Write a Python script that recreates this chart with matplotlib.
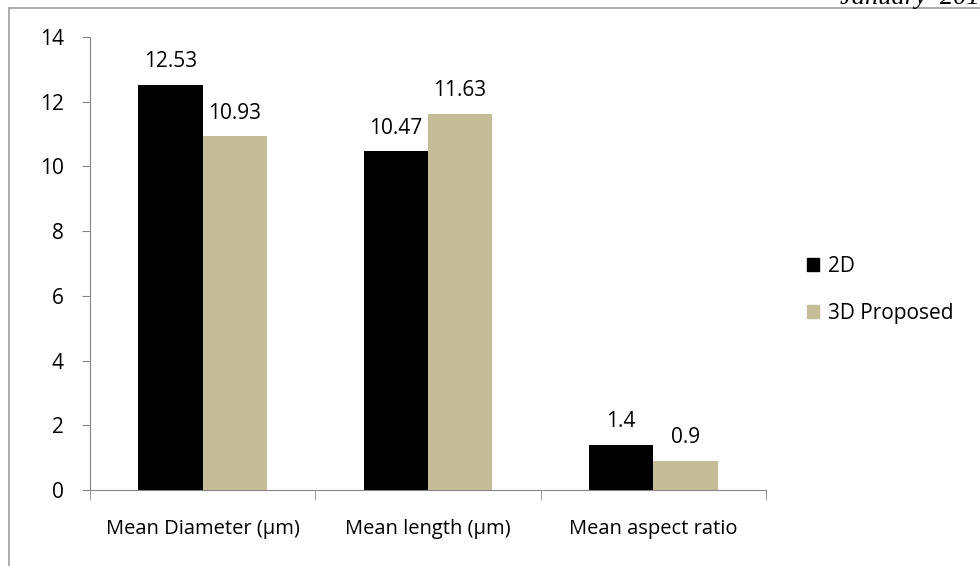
""" Mean fibre geometry, 2D vs proposed 3D method """

import numpy as np
import matplotlib.pyplot as plt
from matplotlib.lines import Line2D
from matplotlib.patches import Patch

categories = ['Mean Diameter (µm)', 'Mean length (µm)', 'Mean aspect ratio']
series_names = ['2D', '3D Proposed']
values_2d = [12.53, 10.47, 1.4]
values_3d = [10.93, 11.63, 0.9]
labels_2d = ['12.53', '10.47', '1.4']
labels_3d = ['10.93', '11.63', '0.9']
y_ticks = [0, 2, 4, 6, 8, 10, 12, 14]


def main():
    plt.rcParams['font.family'] = ['Open Sans', 'DejaVu Sans']
    fig = plt.figure(figsize=(9.8, 5.66), dpi=100)
    ax = fig.add_axes([90 / 980, 1 - 490 / 566, 676 / 980, 453 / 566])

    grey = '#868686'
    xs = np.arange(len(categories))
    w = 0.285
    bars1 = ax.bar(xs - w / 2, values_2d, w, color='black', label=series_names[0])
    bars2 = ax.bar(xs + w / 2, values_3d, w, color='#c4bd97', label=series_names[1])

    for bars, labels in [(bars1, labels_2d), (bars2, labels_3d)]:
        for b, lab in zip(bars, labels):
            ax.annotate(lab, (b.get_x() + b.get_width() / 2, b.get_height()),
                        xytext=(0, 9), textcoords='offset points',
                        ha='center', va='bottom', fontsize=15)

    ax.set_xlim(-0.5, len(categories) - 0.5)
    ax.set_ylim(0, 14)
    ax.set_yticks(y_ticks)
    ax.tick_params(axis='y', length=6, color=grey, labelsize=15, pad=13)
    ax.set_xticks(xs)
    ax.set_xticklabels(categories, fontsize=14.5)
    ax.tick_params(axis='x', length=0, pad=21)
    # category boundary ticks
    ax.set_xticks(np.arange(len(categories) + 1) - 0.5, minor=True)
    ax.tick_params(axis='x', which='minor', length=7, color=grey, direction='out')

    for side in ['top', 'right']:
        ax.spines[side].set_visible(False)
    ax.spines['left'].set_color(grey)
    ax.spines['bottom'].set_color(grey)

    handles = [Patch(color='black'), Patch(color='#c4bd97')]
    fig.legend(handles, series_names, loc='center left',
               bbox_to_anchor=(788 / 980, 1 - 290 / 566), frameon=False,
               fontsize=15, handlelength=0.6, handleheight=0.6,
               handletextpad=0.4, labelspacing=1.25)

    # page border and header fragment
    fig.add_artist(Line2D([9 / 980, 9 / 980], [0, 1 - 8 / 566], color='#a0a0a0', lw=1.2))
    fig.add_artist(Line2D([9 / 980, 1], [1 - 8 / 566, 1 - 8 / 566], color='#a0a0a0', lw=1.2))
    fig.text(840 / 980, 1 - 4 / 566, 'January  2016', fontsize=19, style='italic',
             family='Liberation Serif', va='baseline', ha='left')

    plt.savefig('out.png')


if __name__ == '__main__':
    main()
